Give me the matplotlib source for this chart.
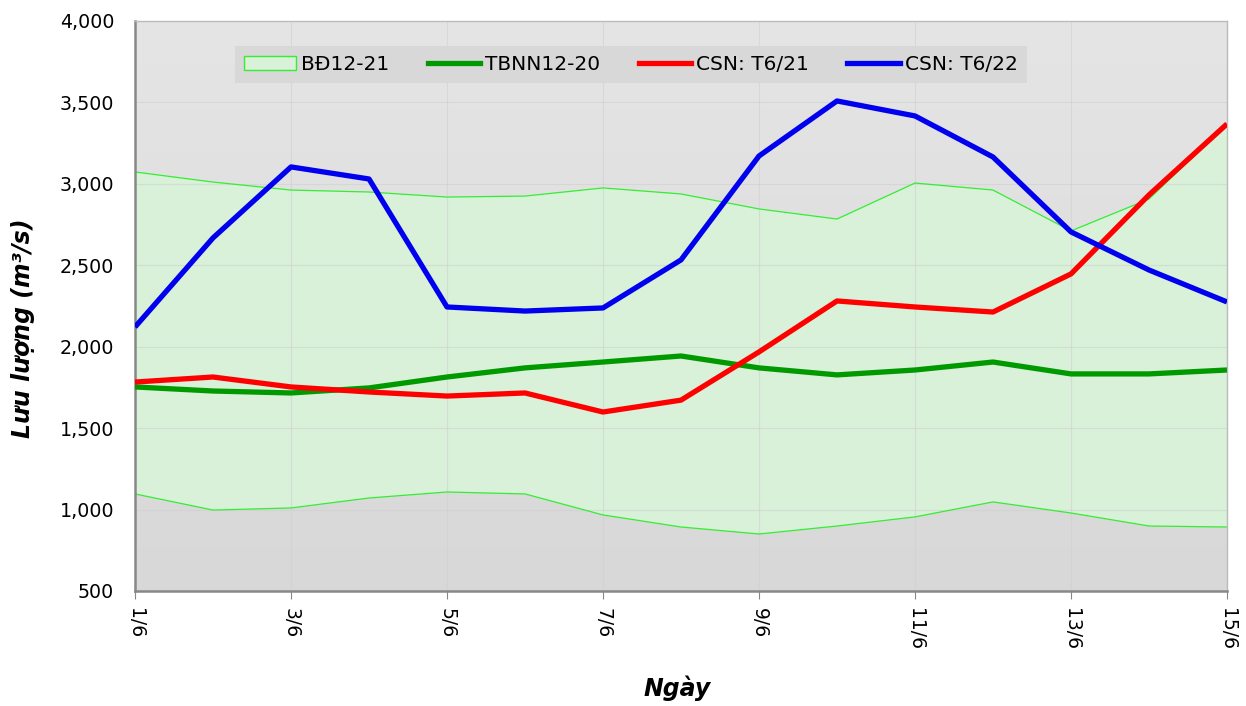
import numpy as np
import matplotlib
matplotlib.use("Agg")
import matplotlib.pyplot as plt
from matplotlib.patches import Patch
from matplotlib.lines import Line2D
from matplotlib.ticker import FuncFormatter, MultipleLocator

days = list(range(1, 16))
tick_days = [1, 3, 5, 7, 9, 11, 13, 15]
tick_labels = [f"{d}/6" for d in tick_days]

bd_upper = [3073, 3011, 2962, 2950, 2919, 2925, 2975, 2938, 2846, 2784, 3005, 2962, 2711, 2907, 3365]
bd_lower = [1096, 997, 1010, 1071, 1108, 1096, 967, 893, 850, 899, 955, 1047, 979, 899, 893]
tbnn = [1753, 1728, 1716, 1747, 1814, 1870, 1906, 1943, 1870, 1827, 1857, 1906, 1833, 1833, 1857]
csn_21 = [1783, 1814, 1753, 1722, 1697, 1716, 1599, 1672, 1968, 2281, 2244, 2213, 2447, 2932, 3368]
csn_22 = [2121, 2668, 3104, 3030, 2244, 2219, 2238, 2533, 3171, 3509, 3417, 3165, 2705, 2471, 2275]

fig = plt.figure(figsize=(12.46, 7.06), dpi=100)
ax = fig.add_axes([135/1246, 1-591/706, (1227-135)/1246, (591-21)/706])

# gradient background
grad = np.linspace(0, 1, 256).reshape(-1, 1)
top = np.array([0.898, 0.898, 0.898])
bot = np.array([0.847, 0.847, 0.847])
img = top[None, None, :] * (1-grad[:, :, None]) + bot[None, None, :] * grad[:, :, None]
ax.imshow(img, extent=[0, 1, 0, 1], transform=ax.transAxes, aspect='auto', zorder=0)

ax.fill_between(days, bd_lower, bd_upper, facecolor='#d8f1d8', edgecolor='none', zorder=1)
ax.plot(days, bd_upper, color='#33ee33', lw=0.9, zorder=2)
ax.plot(days, bd_lower, color='#33ee33', lw=0.9, zorder=2)
ax.plot(days, tbnn, color='#009900', lw=3.8, zorder=3, solid_capstyle='butt')
ax.plot(days, csn_21, color='#ff0000', lw=3.8, zorder=4, solid_capstyle='butt')
ax.plot(days, csn_22, color='#0000ee', lw=3.8, zorder=5, solid_capstyle='butt')

ax.set_xlim(1, 15)
ax.set_ylim(500, 4000)
ax.yaxis.set_major_locator(MultipleLocator(500))
ax.yaxis.set_major_formatter(FuncFormatter(lambda v, p: f"{int(v):,}"))
ax.set_xticks(tick_days)
ax.set_xticklabels(tick_labels, rotation=-90, fontsize=13.5)
ax.tick_params(axis='y', labelsize=13.7, length=0, pad=15)
ax.tick_params(axis='x', length=6, color='#888888', pad=6)
ax.grid(True, color='#d0d0d0', lw=0.8)
for gl in ax.get_xgridlines() + ax.get_ygridlines():
    gl.set_zorder(0.5)
    gl.set_alpha(0.6)

for s in ['left', 'bottom']:
    ax.spines[s].set_color('#888888')
    ax.spines[s].set_linewidth(1.8)
for s in ['top', 'right']:
    ax.spines[s].set_color('#bbbbbb')
    ax.spines[s].set_linewidth(1.0)

ax.set_ylabel("Lưu lượng (m³/s)", fontsize=17, fontweight='bold', style='italic')
ax.yaxis.set_label_coords(-0.0916, 0.461)
ax.set_xlabel("Ngày", fontsize=17, fontweight='bold', style='italic')
ax.xaxis.set_label_coords(0.496, -0.149)

handles = [
    Patch(facecolor='#d8f1d8', edgecolor='#33ee33', lw=1.0),
    Line2D([], [], color='#009900', lw=3.8),
    Line2D([], [], color='#ff0000', lw=3.8),
    Line2D([], [], color='#0000ee', lw=3.8),
]
labels = ["BĐ12-21", "TBNN12-20", "CSN: T6/21", "CSN: T6/22"]
leg = ax.legend(handles, labels, loc='center', bbox_to_anchor=(0.454, 0.923), ncol=4,
                fontsize=14.5, frameon=True, fancybox=False, handlelength=2.6,
                handleheight=0.7, handletextpad=0.25, columnspacing=1.9, borderpad=0.45,
                borderaxespad=0)
leg.get_frame().set_facecolor('#d8d8d8')
leg.get_frame().set_edgecolor('none')
leg.get_frame().set_alpha(1)
leg.set_zorder(10)

fig.savefig("out.png", dpi=100)
